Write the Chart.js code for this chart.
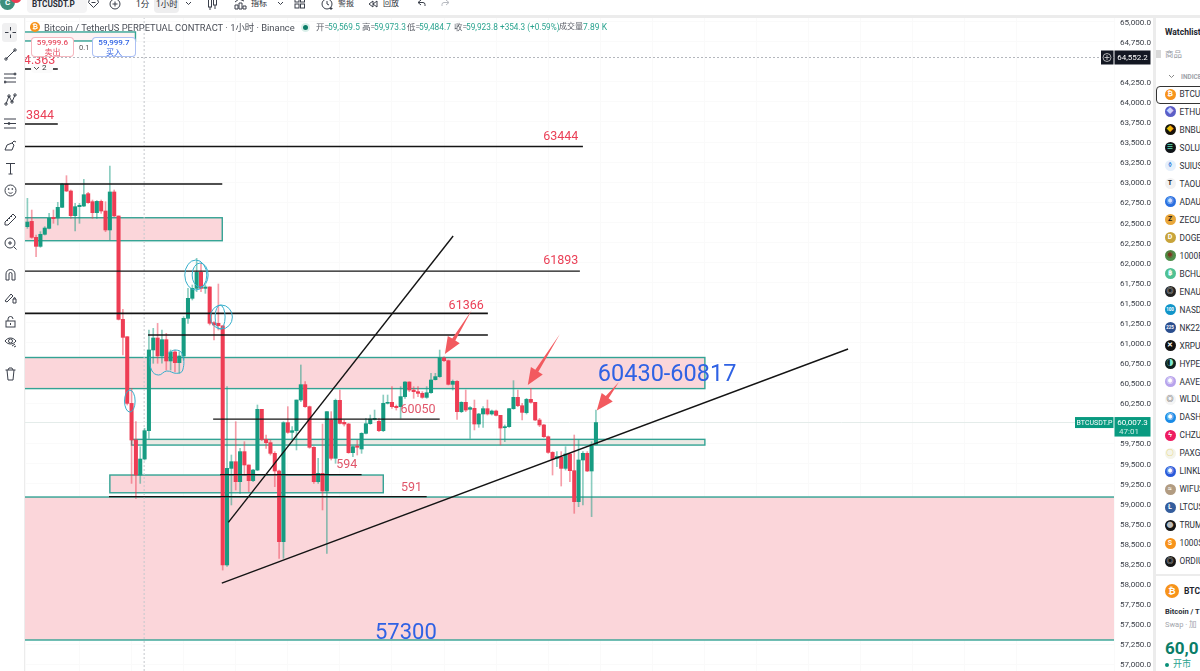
<!DOCTYPE html>
<html lang="zh">
<head>
<meta charset="utf-8">
<title>BTCUSDT.P</title>
<script src="https://cdn.jsdelivr.net/npm/chart.js@4/dist/chart.umd.min.js"></script>
<style>
html,body{margin:0;padding:0;width:1200px;height:671px;overflow:hidden;background:#fff;font-family:Roboto,"Noto Sans CJK SC",sans-serif;color:#2b2f38}
.abs{position:absolute;white-space:nowrap;line-height:1}
#stage{position:absolute;left:0;top:0;width:1200px;height:671px;overflow:hidden}
#chart{position:absolute;left:25px;top:18px}
#topbar{position:absolute;left:0;top:0;width:1200px;height:16px;background:#fff;overflow:hidden}
#topline{position:absolute;left:0;top:15px;width:1200px;height:3px;background:#ececec}
#leftbar{position:absolute;left:0;top:18px;width:24px;height:653px;background:#fff;border-right:1px solid #ececec}
#sidegap{position:absolute;left:1153px;top:16px;width:3px;height:655px;background:#ececec}
#side{position:absolute;left:1156px;top:18px;width:44px;height:653px;background:#fff;overflow:hidden}
svg{position:absolute;fill:none;stroke:#3a3f4a;stroke-width:1}
.coin{position:absolute;border-radius:50%;text-align:center;color:#fff;font-size:6px;font-weight:700}
.box{position:absolute;background:#fff;border-radius:4px;text-align:center;box-sizing:border-box;font-size:8px;line-height:9.5px;padding-top:0}
</style>
</head>
<body>
<div id="stage">
  <canvas id="chart" width="1129" height="653" style="width:1129px;height:653px"></canvas>

  <div id="leftbar"></div>
  <div id="sidegap"></div>
  <div id="side"></div>
  <div id="topbar"></div>
  <div id="topline"></div>
  <div id="overlay"></div>
</div>

<script>
// Hourly candles, index 0 is the oldest bar on screen
const opens = [62446,62512,62313,62201,62351,62425,62562,62554,62687,62977,
62890,62583,62695,62703,62857,62757,62620,62761,62641,62405,
62878,62579,61292,61076,60246,59790,59354,59553,59906,60911,
61060,60836,61039,60774,60886,60753,60836,61305,61554,61678,
61877,61678,61695,61251,61243,61213,58234,59437,59520,59271,
59645,59479,59284,59416,60172,59798,59757,59624,59404,58524,
60006,59885,59906,60288,60479,60205,59699,59271,59375,59155,
60039,59562,60284,60010,59989,59632,59715,59678,59873,59993,
60047,60022,59906,60247,60259,60209,60205,60330,60512,60412,
60392,60371,60321,60379,60541,60579,60811,60778,60483,60520,
60143,60259,60172,60184,59989,60114,60180,60114,60151,60097,
59943,59956,60180,60321,60217,60130,60296,60259,60039,59977,
59831,59636,59562,59574,59437,59616,59408,59022,59541,59624,
59404,59736];
const closes = [62504,62313,62201,62351,62429,62550,62546,62687,62977,62890,
62583,62695,62712,62844,62745,62620,62761,62641,62405,62878,
62579,61292,61068,60246,59790,59354,59553,59906,60911,61060,
60836,61039,60774,60886,60753,60836,61305,61554,61678,61877,
61678,61695,61243,61222,61213,58234,59437,59520,59271,59645,
59479,59284,59416,60172,59798,59757,59624,59404,58524,60006,
59885,59906,60288,60479,60205,59699,59271,59375,59155,60143,
59562,60284,59997,59989,59632,59707,59699,59873,59993,60051,
60060,59906,60247,60259,60205,60193,60330,60512,60412,60392,
60371,60321,60379,60537,60579,60811,60778,60483,60520,60143,
60259,60163,60193,59989,60114,60180,60114,60151,60097,59939,
59956,60180,60321,60217,60134,60296,60259,60039,59977,59831,
59636,59553,59583,59437,59616,59408,59022,59541,59624,59404,
59736,60007.3];
const highs = [62799,62653,62342,62384,62446,62612,62653,62749,62986,63081,
62903,62736,62736,63035,62873,62778,62770,62778,62757,63201,
62903,62579,61417,61076,60433,60018,59707,59935,61160,61180,
61242,61160,61118,60911,60911,60890,61326,61678,61720,62052,
61990,61720,61699,61263,61732,61213,60454,59603,60018,59686,
59769,59479,59425,60226,60172,59852,59790,59645,59416,60018,
60205,59956,60288,60724,60516,60213,59707,59562,59989,60143,
60143,60300,60412,60039,59997,59715,59790,59881,60060,60101,
60163,60060,60350,60350,60454,60226,60454,60516,60516,60454,
60454,60392,60454,60620,60620,60910,60827,60786,60537,60529,
60267,60412,60205,60288,60122,60205,60288,60163,60163,60097,
59977,60184,60529,60412,60246,60309,60433,60259,60060,59985,
59840,59645,59645,59645,59707,59624,59852,59790,59645,59645,
59769,60163];
const lows = [62425,62301,62072,62189,62342,62417,62488,62467,62683,62882,
62550,62392,62488,62695,62736,62550,62550,62612,62384,62280,
62570,61284,60848,60226,59250,59064,59250,59541,59811,60745,
60745,60745,60661,60661,60641,60620,60786,61243,61533,61637,
61637,61616,61222,61035,61159,58171,58215,58981,59167,59126,
59354,59147,59271,59408,59782,59686,59603,59209,58317,58317,
59873,59790,59666,60267,60197,59686,59250,59250,58919,58379,
59541,59500,59989,59964,59624,59583,59603,59624,59865,59985,
60039,59894,59894,60238,60184,60163,60060,60309,60392,60309,
60330,60309,60309,60371,60537,60570,60765,60475,60412,60047,
60130,60143,59811,59915,59948,59948,60101,60101,60089,59728,
59769,59948,60172,60205,60039,60114,60247,60031,59956,59823,
59624,59354,59458,59217,59416,59271,58877,58960,58981,59396,
58836,59728];

// Price axis labels; two levels sit under the live price tags
const tickValues = [65000,64750,64250,64000,63750,63500,63250,63000,62750,62500,62250,62000,61750,61500,61250,61000,60750,60500,60250,59750,59500,59250,59000,58750,58500,58250,58000,57750,57500,57250,57000];

// Supply and demand zones: first bar, last bar, lower price, upper price
const zoneStart = [-3,-3,-3,24,19];
const zoneEnd   = [24.9,44.9,156.1,156.1,82];
const zoneLow   = [64758,62271,60430,59727,59133];
const zoneHigh  = [64870,62557,60817,59798,59354];
const floorZoneLow = 57300, floorZoneHigh = 59080;

// Horizontal levels: price, first bar, last bar
const levelPrice = [64409,63724,63444,62977,61893,61366,61097,60050,59360,59085];
const levelStart = [-3,-3,-3,-3,-3,-3,27.8,42.8,44.4,18.8];
const levelEnd   = [7,7,128,44.9,127.3,106.1,106.1,95,77,92];

// Trend lines: [bar, price] pairs
const steepTrend = [[46.3,58765],[98.1,62330]];
const risingTrend = [[44.8,58009],[189.1,60923]];

const crosshairPrice = 64552.2, crosshairBar = 26.9, lastPrice = 60007.3;

// Arrow markers: tail bar, tail price, tip bar, tip price
const arrowTailBar = [102.4,122.7,136.3];
const arrowTailPrice = [61408,61110,60512];
const arrowTipBar = [96.2,115.3,131.2];
const arrowTipPrice = [60860,60474,60156];

// Chart notes
const noteText = ["63444","61893","61366","60050","594","591","3844","4.363"];
const noteBar = [122.9,122.9,101.1,90,73.6,88.5,2.9,2.8];
const notePrice = [63562,62018,61458,60163,59478,59192,63830,64508];
const bigNoteText = ["60430-60817","57300"];
const bigNoteBar = [147.4,87.2];
const bigNotePrice = [60600,57376];

// Hand-drawn rings and the sketched outline around the small consolidation
const ringBar = [38.8,39.8,44.7,44.4,23.6];
const ringPrice = [61844,61844,61321,61321,60275];
const ringRx = [11,8,11,5,5.3];
const ringRy = [15,12,12,12,11];
const sketchBar = [28.2,28.6,30.2,32.1,34.4,35.8,35.6,34,32.5];
const sketchPrice = [60827,60661,60599,60649,60620,60661,60869,60910,60869];

const GREEN='#179c82', RED='#ee3d54', TEAL='#33a394', PINK='#fbd6da', INK='#141414';

const makeLine = (pts, color, width, order, extra={}) => Object.assign({
  type:'line', data:pts, borderColor:color, borderWidth:width, pointRadius:0,
  fill:false, order, tension:0, parsing:{xAxisKey:'x',yAxisKey:'y'}
}, extra);

const wickData = highs.map((h,i)=>({x:i,y:[lows[i],h]}));
const bodyData = opens.map((o,i)=>({x:i,y:[o,closes[i]]}));
const barColor = alpha => opens.map((o,i)=> closes[i]>=o ? alpha?'rgba(23,156,130,.5)':GREEN : alpha?'rgba(238,61,84,.5)':RED);

const levelSets = levelPrice.map((p,i)=>makeLine(
  [{x:levelStart[i],y:p},{x:levelEnd[i],y:p}], INK, i===5?1.8:1.3, 0));

const axisLeft=-0.553, axisRight=250.37;

const datasets = [
  makeLine([{x:axisLeft,y:lastPrice},{x:axisRight,y:lastPrice}],'#e4ecea',1,6),
  makeLine([{x:axisLeft,y:crosshairPrice},{x:axisRight,y:crosshairPrice}],'#b4b7bd',1,6,{borderDash:[2,2]}),
  makeLine([{x:crosshairBar,y:56914},{x:crosshairBar,y:65044}],'#c4c7cc',1,6,{borderDash:[2,2]}),
  {type:'bar',data:wickData,backgroundColor:barColor(true),barThickness:1,order:3,grouped:false},
  {type:'bar',data:bodyData,backgroundColor:barColor(false),barThickness:3.4,order:2,grouped:false},
  ...levelSets,
  makeLine(steepTrend.map(p=>({x:p[0],y:p[1]})),INK,1.4,0),
  makeLine(risingTrend.map(p=>({x:p[0],y:p[1]})),INK,1.4,0),
  makeLine(sketchBar.map((b,i)=>({x:b,y:sketchPrice[i]})),'#35aecb',1,0,{tension:.45})
];

// Zones sit behind the candles; notes, rings and arrows on top of them
const drawings = {
  id:'drawings',
  beforeDatasetsDraw(c){
    const {ctx,chartArea:a,scales:{x,y}}=c;
    ctx.save();
    ctx.beginPath();ctx.rect(a.left,a.top,a.right-a.left,a.bottom-a.top);ctx.clip();
    const paint=(x0,x1,lo,hi,fill)=>{
      const l=x.getPixelForValue(x0),r=x.getPixelForValue(x1),t=y.getPixelForValue(hi),b=y.getPixelForValue(lo);
      ctx.fillStyle=fill;ctx.fillRect(l,t,r-l,b-t);
      ctx.strokeStyle=TEAL;ctx.lineWidth=1.4;ctx.strokeRect(l,t,r-l,b-t);
    };
    paint(axisLeft-3,axisRight+3,floorZoneLow,floorZoneHigh,PINK);
    zoneStart.forEach((s,i)=>paint(s,zoneEnd[i],zoneLow[i],zoneHigh[i],i===3?'#ebe9e4':i===0?'#fdf3f4':PINK));
    ctx.restore();
  },
  afterDatasetsDraw(c){
    const {ctx,scales:{x,y}}=c;
    ctx.save();
    ctx.strokeStyle='#35aecb';ctx.lineWidth=1;
    ringBar.forEach((b,i)=>{
      ctx.beginPath();
      ctx.ellipse(x.getPixelForValue(b),y.getPixelForValue(ringPrice[i]),ringRx[i],ringRy[i],0,0,Math.PI*2);
      ctx.stroke();
    });
    ctx.fillStyle='#f25a5f';
    arrowTipBar.forEach((b,i)=>{
      const tx=x.getPixelForValue(b),ty=y.getPixelForValue(arrowTipPrice[i]);
      const sx=x.getPixelForValue(arrowTailBar[i]),sy=y.getPixelForValue(arrowTailPrice[i]);
      const len=Math.hypot(tx-sx,ty-sy),ux=(tx-sx)/len,uy=(ty-sy)/len,px=-uy,py=ux;
      const hx=tx-ux*17,hy=ty-uy*17;
      ctx.beginPath();
      ctx.moveTo(tx,ty);
      ctx.lineTo(hx+px*7,hy+py*7);
      ctx.lineTo(hx+px*1.8,hy+py*1.8);
      ctx.lineTo(sx,sy);
      ctx.lineTo(hx-px*1.8,hy-py*1.8);
      ctx.lineTo(hx-px*7,hy-py*7);
      ctx.closePath();ctx.fill();
    });
    ctx.textAlign='center';ctx.textBaseline='middle';
    noteText.forEach((t,i)=>{
      ctx.font='12.5px Roboto, sans-serif';
      ctx.fillStyle= i===3||i===4||i===5 ? '#e0566a' : '#ea3f56';
      ctx.fillText(t,x.getPixelForValue(noteBar[i]),y.getPixelForValue(notePrice[i]));
    });
    ctx.fillStyle='#2f62e4';
    bigNoteText.forEach((t,i)=>{
      ctx.font=(i===0?'23.5px':'22px')+' Roboto, sans-serif';
      ctx.fillText(t,x.getPixelForValue(bigNoteBar[i]),y.getPixelForValue(bigNotePrice[i]));
    });
    ctx.restore();
  },
  afterDraw(c){
    // Price tags along the axis
    const {ctx,chartArea:a,scales:{y}}=c;
    const cy=y.getPixelForValue(crosshairPrice), ly=y.getPixelForValue(lastPrice);
    ctx.save();
    ctx.textBaseline='middle';ctx.textAlign='center';
    ctx.fillStyle='#131722';
    ctx.fillRect(a.right-13,cy-7,12.5,14);
    ctx.fillRect(a.right+.5,cy-7,36,14);
    ctx.strokeStyle='#d8d8d8';ctx.lineWidth=.8;
    ctx.beginPath();ctx.arc(a.right-7,cy,4,0,Math.PI*2);
    ctx.moveTo(a.right-9.5,cy);ctx.lineTo(a.right-4.5,cy);
    ctx.moveTo(a.right-7,cy-2.5);ctx.lineTo(a.right-7,cy+2.5);ctx.stroke();
    ctx.fillStyle='#fff';ctx.font='8px Roboto, sans-serif';
    ctx.fillText('64,552.2',a.right+18.5,cy+.5);
    ctx.fillStyle='#099a80';
    ctx.fillRect(a.right-39,ly-5.5,38.5,11);
    ctx.fillRect(a.right+.5,ly-5.5,36,19.5);
    ctx.fillStyle='#fff';ctx.font='7px Roboto, sans-serif';
    ctx.fillText('BTCUSDT.P',a.right-19.5,ly+.5);
    ctx.font='8px Roboto, sans-serif';
    ctx.fillText('60,007.3',a.right+18.5,ly+.5);
    ctx.fillStyle='#cfeee7';
    ctx.textAlign='left';
    ctx.fillText('47:01',a.right+5,ly+9.5);
    ctx.restore();
  }
};

new Chart(document.getElementById('chart'),{
  type:'bar',
  data:{datasets},
  plugins:[drawings],
  options:{
    responsive:false,animation:false,
    layout:{padding:0},
    plugins:{legend:{display:false},tooltip:{enabled:false}},
    scales:{
      x:{type:'linear',offset:false,min:axisLeft,max:axisRight,border:{display:false},
         grid:{offset:false,color:'#fafafa',drawTicks:false},
         afterFit(s){s.height=0;s.paddingLeft=0;s.paddingRight=0},
         ticks:{display:false,stepSize:12}},
      y:{position:'right',min:56914,max:65044,border:{display:false},
         grid:{color:'#fafafa',drawTicks:false},
         afterFit(s){s.width=40;s.paddingTop=0;s.paddingBottom=0},
         afterBuildTicks(s){s.ticks=tickValues.map(v=>({value:v}))},
         ticks:{padding:6,labelOffset:1.2,color:'#3b3f48',font:{family:'Roboto, sans-serif',size:8.1},
                callback:v=>v.toLocaleString('en-US',{minimumFractionDigits:1,maximumFractionDigits:1})}}
    }
  }
});

// Application chrome around the chart
const text=(parent,s,l,t,size,color,weight)=>{
  const d=document.createElement('div');d.className='abs';d.textContent=s;
  d.style.cssText=`left:${l}px;top:${t}px;font-size:${size}px;color:${color||'#2b2f38'};font-weight:${weight||400}`;
  parent.appendChild(d);return d;
};
const svgAt=(parent,l,t,w,h,inner)=>{
  const box=document.createElement('div');
  box.innerHTML=`<svg style="left:${l}px;top:${t}px" width="${w}" height="${h}" viewBox="0 0 ${w} ${h}">${inner}</svg>`;
  parent.appendChild(box.firstChild);
};

const bar=document.getElementById('topbar');
const pill=(l,w,c)=>{const d=document.createElement('div');d.style.cssText=`position:absolute;left:${l}px;top:-6px;width:${w}px;height:19px;background:${c};border-radius:4px`;bar.appendChild(d)};
pill(27,60,'#f4f4f5');pill(154,25,'#eeeeef');
const ava=document.createElement('div');ava.style.cssText='position:absolute;left:0;top:-5px;width:15px;height:15px;border-radius:50%;background:#3f8f7d;color:#fff;font:700 8px/15px Roboto;text-align:center';ava.textContent='C';bar.appendChild(ava);
const bad=document.createElement('div');bad.style.cssText='position:absolute;left:11px;top:-5px;width:10px;height:8px;border-radius:50%;background:#ee3d54';bar.appendChild(bad);
text(bar,'BTCUSDT.P',32,0,8.2,'#2b2f38',700);
text(bar,'1分',136,0,8.5);
text(bar,'1小时',156,0,8.5);
text(bar,'指标',251,0,8);
text(bar,'警报',338,0,8);
text(bar,'回放',383,0,8);
svgAt(bar,88,-2,11,11,'<path d="M1.5 1.5h8l1 3-5 5-5-5z"/><path d="M3.5 4.5h4"/>');
svgAt(bar,109,-2,12,12,'<circle cx="6" cy="6" r="5"/><path d="M3.5 6h5M6 3.5v5"/>');
svgAt(bar,185,1,7,5,'<path d="M1 1l2.5 2.5L6 1"/>');
svgAt(bar,207,-3,11,14,'<rect x="1.5" y="2" width="3" height="8"/><rect x="6.5" y="1" width="3" height="7"/><path d="M3 0v2M3 10v3M8 8v4"/>');
svgAt(bar,234,-2,13,12,'<path d="M1 11V7h3v4zM5 11V5h3v6zM9 11V8h3v3zM1 4l4-3 5 2"/>');
svgAt(bar,277,1,7,5,'<path d="M1 1l2.5 2.5L6 1"/>');
svgAt(bar,294,-3,11,13,'<rect x="1" y="1" width="4" height="4"/><rect x="6.5" y="1" width="4" height="4"/><rect x="1" y="7" width="4" height="4"/><rect x="6.5" y="7" width="4" height="4"/>');
svgAt(bar,321,-2,13,13,'<circle cx="6" cy="6" r="5"/><path d="M6 3v3l2 1M10 9v3M8.5 10.5h3"/>');
svgAt(bar,368,0,10,8,'<path d="M5 1L1 4l4 3zM9 1L5 4l4 3z"/>');
svgAt(bar,417,-1,9,9,'<path d="M4 1L1 3.5 4 6M1 3.5h5a2 2 0 0 1 2 2V7"/>');
svgAt(bar,441,-1,9,9,'<path d="M5 1l3 2.5L5 6M8 3.5H3a2 2 0 0 0-2 2V7" style="stroke:#b8bbc1"/>');

// Left drawing tools
const lb=document.getElementById('leftbar');
const sel=document.createElement('div');sel.style.cssText='position:absolute;left:2px;top:5px;width:15px;height:19px;background:#f0f0f1;border-radius:3px';lb.appendChild(sel);
const toolTop=[8,30,53,75,99,121,144,166,195,219,250,273,297,317,349];
const toolDraw=[
 '<path d="M6.5 1v3.5M6.5 8.5V12M1 6.5h3.5M8.5 6.5H12"/>',
 '<path d="M2 11L11 2"/><circle cx="2" cy="11" r="1.2"/><circle cx="11" cy="2" r="1.2"/>',
 '<path d="M0 3h12M0 7h12M0 11h12"/><circle cx="11" cy="3" r="1"/><circle cx="1" cy="11" r="1"/>',
 '<path d="M2 11l3-8 3 6 3-7"/><circle cx="2" cy="11" r="1.2"/><circle cx="5" cy="3" r="1.2"/><circle cx="8" cy="9" r="1.2"/><circle cx="11" cy="2" r="1.2"/>',
 '<path d="M0 2h12M0 6.5h12M0 11h12"/><circle cx="5" cy="6.5" r="1"/>',
 '<path d="M1 11l2-5 5-2 2 2-2 5z"/><path d="M8 4l2-2 2 1"/>',
 '<path d="M2 1.5h9M6.5 1.5V12M4.5 12h4"/>',
 '<circle cx="6.5" cy="6.5" r="5.5"/><path d="M4.5 8.5c1 1 3 1 4 0"/><circle cx="4.7" cy="5" r=".5"/><circle cx="8.3" cy="5" r=".5"/>',
 '<path d="M1 9l8-8 3 3-8 8H1zM3 7l1 1M5 5l1 1M7 3l1 1"/>',
 '<circle cx="6" cy="6" r="5"/><path d="M10 10l2.5 2.5M4 6h4M6 4v4"/>',
 '<path d="M2 12V6a4.5 4.5 0 0 1 9 0v6H8V6a1.5 1.5 0 0 0-3 0v6z"/>',
 '<path d="M1 10l6-7 2 2-6 6zM9 8h3v4H9zM9.8 8V7a.8.8 0 0 1 1.5 0v1"/>',
 '<rect x="2" y="6" width="9" height="6"/><path d="M4 6V4a2.5 2.5 0 0 1 5 0"/><path d="M6.5 8v2"/>',
 '<path d="M1 6c3-4 8-4 11 0-3 4-8 4-11 0z"/><circle cx="6.5" cy="6" r="2"/><path d="M8 11l3-2M10 12l2-1"/>',
 '<path d="M1.5 3h10M4 3l1-2h3l1 2M3 3l1 10h5l1-10"/>'
];
toolTop.forEach((t,i)=>svgAt(lb,4,t,13,14,toolDraw[i]));

// Watchlist
const side=document.getElementById('side');
text(side,'Watchlist',9,10,8.5,'#20242c',700);
const sq=document.createElement('div');sq.style.cssText='position:absolute;left:0;top:32px;width:5px;height:8px;background:#d9d9d9';side.appendChild(sq);
text(side,'商品',9,32,8.5,'#9a9da5');
svgAt(side,12,56,7,5,'<path d="M1 1l2.5 2.5L6 1" style="stroke:#888"/>');
text(side,'INDICE',25,56,6.5,'#a0a3aa',700);

const watchNames=["BTCU","ETHU","BNBU","SOLU","SUIUS","TAOU","ADAU","ZECU","DOGE","1000F","BCHU","ENAU","NASD","NK225","XRPU","HYPE","AAVEU","WLDL","DASH","CHZU","PAXG","LINKL","WIFUS","LTCUS","TRUM","1000S","ORDIU"];
const watchColors=["#f7931a","#5b5fc7","#17130a","#101418","#e6f0fb","#f1f1f2","#2a6fe0","#e9a73b","#c8a43b","#4e8f4a","#4fc193","#222","#1195c9","#2a4e8e","#111","#0f201e","#b7a3ec","#f4f4f4","#1a8be6","#ee1c61","#f4f4ea","#2a5ada","#b29c82","#345d9d","#141414","#f7931a","#161616"];
const watchGlyphs=["₿","◆","◆","≡","◊","T","◉","Z","D","◉","฿","◎","100","225","✕","◑","◉","◎","◉","ϟ","◯","◉","≈","Ł","●","S","◎"];
const watchGlyphColor=["#fff","#cfd3ff","#f0b90b","#57e0b6","#4c8fe0","#222","#cfe0ff","#1a1a1a","#fff","#7a3a20","#fff","#ddd","#fff","#fff","#fff","#7fe8d4","#fff","#333","#fff","#fff","#e2c32a","#fff","#fff","#fff","#bbb","#fff","#ddd"];
watchNames.forEach((n,i)=>{
  const cy=76+i*17.97;
  const c=document.createElement('div');c.className='coin';
  c.style.cssText=`left:8.5px;top:${cy-5.5}px;width:11px;height:11px;background:${watchColors[i]};color:${watchGlyphColor[i]};line-height:11px;font-size:${n==='NASD'||n==='NK225'?4.5:7}px`;
  c.textContent=watchGlyphs[i];side.appendChild(c);
  text(side,n,23.5,cy-4,8.3,'#2b2f38');
});
const ring=document.createElement('div');ring.style.cssText='position:absolute;left:0;top:68px;width:60px;height:16px;border:1px solid #333;border-radius:4px';side.appendChild(ring);
const rule=document.createElement('div');rule.style.cssText='position:absolute;left:0;top:556px;width:44px;height:2px;background:#ececec';side.appendChild(rule);
const big=document.createElement('div');big.className='coin';big.style.cssText='left:9px;top:566px;width:14px;height:14px;background:#f7931a;line-height:14px;font-size:9px';big.textContent='₿';side.appendChild(big);
text(side,'BTC',28,569,8.5,'#20242c',700);
text(side,'Bitcoin / T',9,590,7.5,'#2b2f38',700);
text(side,'Swap · 加',9,603,7.5,'#a2a5ac');
text(side,'60,0',9,622,17,'#0a7d68',700);
text(side,'开市',17,642,9,'#2aa38f');
const dot=document.createElement('div');dot.style.cssText='position:absolute;left:9px;top:645px;width:4px;height:4px;border-radius:50%;background:#0a8f78';side.appendChild(dot);

// Symbol legend and order buttons above the plot
const ov=document.getElementById('overlay');
const coin=document.createElement('div');coin.className='coin';coin.style.cssText='left:30px;top:22px;width:10px;height:10px;background:#f7931a;line-height:10px;font-size:7px';coin.textContent='₿';ov.appendChild(coin);
text(ov,'Bitcoin / TetherUS PERPETUAL CONTRACT · 1小时 · Binance',44,22.5,9.4,'#4a4e57');
const halo=document.createElement('div');halo.style.cssText='position:absolute;left:301px;top:23px;width:9px;height:9px;border-radius:50%;background:#d9efe9';ov.appendChild(halo);
const hd=document.createElement('div');hd.style.cssText='position:absolute;left:303px;top:25px;width:5px;height:5px;border-radius:50%;background:#0b7d68';ov.appendChild(hd);
const quoteParts=[['开',316,'59,569.5'],['高',362,'59,973.3'],['低',407,'59,484.7'],['收',454,'59,923.8']];
quoteParts.forEach(([k,l,v])=>{
  text(ov,k+'=',l,23,8.5,'#5a5e67');
  text(ov,v,l+12,23,8.3,'#2aa38f');
});
text(ov,'+354.3 (+0.59%)',500,23,8.2,'#2aa38f');
text(ov,'成交量',559,23,8,'#5a5e67');
text(ov,'7.89 K',583,23,8.5,'#2aa38f');

const mkBox=(l,w,color,price,label)=>{
  const b=document.createElement('div');b.className='box';
  b.style.cssText=`left:${l}px;top:37px;width:${w}px;height:20px;border:1px solid ${color}66;color:${color};font-weight:500`;
  b.innerHTML=`<div>${price}</div><div style="font-weight:400">${label}</div>`;
  ov.appendChild(b);
};
mkBox(31,43,'#e74a5f','59,999.6','卖出');
mkBox(92,44,'#2f62e4','59,999.7','买入');
text(ov,'0.1',79,44,7.5,'#555');
const fold=document.createElement('div');fold.style.cssText='position:absolute;left:31px;top:64px;width:22px;height:9px;background:#fbfbfb;border-radius:4px';ov.appendChild(fold);
svgAt(ov,33,66,7,5,'<path d="M1 1l2.5 2.5L6 1" style="stroke:#555"/>');
text(ov,'2',42,64,8,'#333');
</script>
</body>
</html>
